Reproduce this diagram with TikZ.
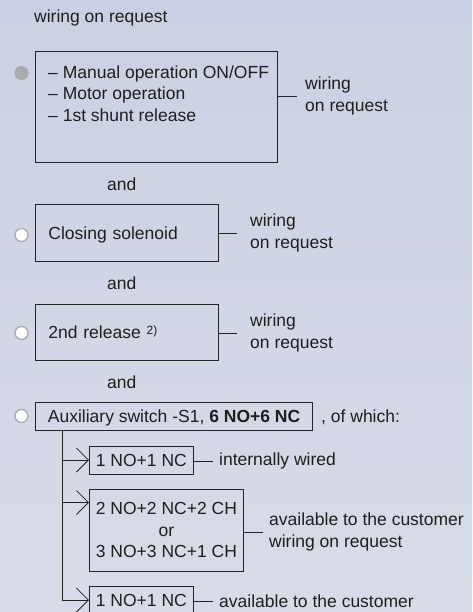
\documentclass[tikz,border=0pt]{standalone}
\usepackage{fontspec}
\setmainfont{Liberation Sans}
\usetikzlibrary{arrows.meta}
\definecolor{ink}{HTML}{222222}
\definecolor{txtc}{HTML}{1E1E1E}
\definecolor{dotgrey}{HTML}{A9ABB0}
\definecolor{bgtop}{HTML}{CBD1E4}
\definecolor{bgbot}{HTML}{D9DCE8}
\begin{document}
\begin{tikzpicture}[x=1pt,y=-1pt,
  every node/.style={font=\fontsize{17.5}{21.5}\selectfont, text=txtc},
  box/.style={draw=ink, line width=0.8pt, inner xsep=13pt, inner ysep=0pt, align=left},
  oneline/.style={text height=14pt, text depth=1pt},
  subbox/.style={draw=ink, line width=0.8pt, inner xsep=6.5pt, inner ysep=0pt, minimum height=28pt},
  lbl/.style={anchor=west, inner sep=0pt, align=left},
  tick/.style={draw=ink, line width=0.8pt},
  feed/.style={draw=ink, line width=0.8pt, -{Straight Barb[length=12pt,width=24pt]}},
  fulldot/.style={circle, fill=dotgrey, minimum size=14pt, inner sep=0pt},
  opendot/.style={circle, fill=white, draw=dotgrey, line width=1.3pt, minimum size=13pt, inner sep=0pt}]
  \shade[top color=bgtop, bottom color=bgbot] (0,0) rectangle (472,612);
  \useasboundingbox (0,0) rectangle (472,612);
  \clip (0,0) rectangle (472,612);

  \node[anchor=base west, inner sep=0pt] (head) at (34,23) {wiring on request};

  % operating mechanism
  \node[fulldot] (dot1) at (21.5,73) {};
  \node[box, minimum width=242pt, minimum height=111pt] (op) at (156,106.5) {};
  \node[anchor=north west, inner sep=0pt, align=left] (optext) at (48,65.4)
    {– Manual operation ON/OFF\\– Motor operation\\– 1st shunt release};
  \node[lbl] (opwire) at (305,96) {wiring\\on request};
  \draw[tick, shorten >=8pt] (op.east |- opwire.west) -- (opwire.west);

  \node[anchor=base west, inner sep=0pt] (and1) at (107,191) {and};

  % closing solenoid
  \node[opendot] (dot2) at (21.5,235) {};
  \node[box, oneline, text width=157pt, minimum height=57pt, anchor=west] (sol) at (35,232.5) {Closing solenoid};
  \node[lbl] (solwire) at (250,233) {wiring\\on request};
  \draw[tick, shorten >=13pt] (sol.east |- solwire.west) -- (solwire.west);

  \node[anchor=base west, inner sep=0pt] (and2) at (107,289) {and};

  % second release
  \node[opendot] (dot3) at (21.5,333) {};
  \node[box, oneline, text width=157pt, minimum height=56pt, anchor=west] (rel) at (35,332)
    {2nd release {\fontsize{12}{12}\selectfont\raisebox{4pt}{2)}}};
  \node[lbl] (relwire) at (250,333) {wiring\\on request};
  \draw[tick, shorten >=13pt] (rel.east |- relwire.west) -- (relwire.west);

  \node[anchor=base west, inner sep=0pt] (and3) at (107,388) {and};

  % auxiliary switch
  \node[opendot] (dot4) at (21.5,416) {};
  \node[box, oneline, inner xsep=12.5pt, minimum height=28pt, anchor=west] (aux) at (35,416)
    {Auxiliary switch -S1, \textbf{6 NO+6 NC}};
  \node[anchor=base west, inner sep=0pt] (which) at (321,422) {, of which:};

  \node[subbox, oneline, anchor=west] (suba) at (89,460) {1 NO+1 NC};
  \node[subbox, align=center, minimum height=82pt, anchor=west] (subb) at (89,530)
    {2 NO+2 NC+2 CH\\or\\3 NO+3 NC+1 CH};
  \node[subbox, oneline, anchor=west] (subc) at (89,600) {1 NO+1 NC};

  \node[lbl] (intwire) at (219,461) {internally wired};
  \node[lbl] (custwire) at (269,532) {available to the customer\\wiring on request};
  \node[lbl] (custonly) at (219,601) {available to the customer};
  \draw[tick, shorten >=6pt] (suba.east |- intwire.west) -- (intwire.west);
  \draw[tick, shorten >=6pt] (subb.east |- custwire.west) -- (custwire.west);
  \draw[tick, shorten >=6pt] (subc.east |- custonly.west) -- (custonly.west);

  \coordinate (trunk) at ([xshift=27pt]aux.south west);
  \coordinate (subbin) at ([yshift=-14pt]subb.north west);
  \draw[feed] (trunk) |- (subc.west);
  \draw[feed] (trunk |- suba.west) -- (suba.west);
  \draw[feed] (trunk |- subbin) -- (subbin);
\end{tikzpicture}
\end{document}
